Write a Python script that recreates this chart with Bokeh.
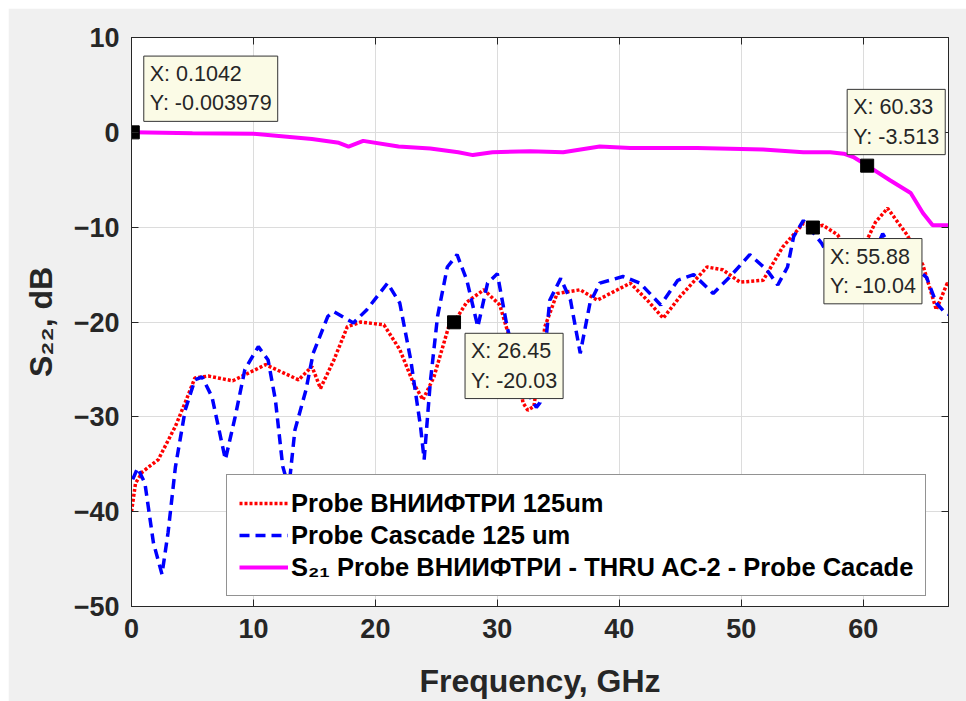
from bokeh.plotting import figure
from bokeh.models import (FixedTicker, LinearAxis, Legend, LegendItem, Label,
                          Range1d, CustomLabelingPolicy)
from bokeh.embed import file_html
from bokeh.resources import INLINE

# ---------------- data ----------------
red_freq = [0.0, 0.33, 0.9, 2.2, 3.6, 4.4, 5.2, 6.3, 8.3, 11.0, 13.7, 14.8, 15.5,
            16.6, 17.7, 18.8, 20.7, 22.0, 23.1, 23.9, 24.8, 26.1, 26.45, 27.5,
            28.9, 30.2, 30.8, 31.6, 32.1, 32.5, 33.0, 33.9, 34.9, 36.8, 38.2,
            40.9, 42.3, 43.6, 45.0, 47.2, 48.5, 49.9, 51.8, 53.4, 55.1, 55.88,
            56.7, 57.9, 59.0, 60.3, 61.0, 62.0, 63.6, 64.9, 66.0, 66.9, 67.0]
red_db = [-40.0, -37.0, -35.8, -34.5, -31.0, -28.5, -25.9, -25.7, -26.2, -24.5,
          -26.1, -24.7, -27.0, -24.0, -20.5, -20.0, -20.3, -22.9, -26.4, -28.2,
          -25.8, -20.1, -20.03, -17.9, -16.6, -18.2, -20.8, -24.0, -28.5, -29.3,
          -28.9, -20.5, -17.0, -16.6, -17.7, -15.9, -17.7, -19.6, -17.3, -14.2,
          -14.5, -15.8, -15.6, -12.1, -9.6, -10.04, -9.8, -10.8, -13.0, -11.4,
          -9.5, -8.0, -10.8, -14.0, -18.7, -15.9, -16.0]

blue_freq = [0.1, 0.5, 1.1, 1.8, 2.5, 3.0, 3.6, 4.4, 5.2, 5.8, 6.6, 7.7, 8.5, 9.3,
             10.4, 11.2, 11.8, 12.4, 12.9, 13.4, 14.3, 14.9, 16.1, 16.6, 18.2,
             19.3, 21.0, 22.0, 22.9, 23.7, 24.0, 24.5, 25.1, 25.9, 26.7, 27.5,
             28.4, 29.2, 30.0, 30.8, 31.5, 32.5, 33.2, 33.5, 34.3, 35.2, 36.0,
             36.8, 37.6, 38.4, 40.3, 41.7, 43.4, 44.8, 46.1, 47.7, 49.1, 50.7,
             52.1, 53.0, 53.8, 54.3, 55.1, 56.6, 58.0, 59.5, 60.8, 61.6, 62.5,
             63.5, 65.2, 66.0, 66.7, 67.0]
blue_db = [-36.6, -35.4, -37.0, -43.3, -46.6, -42.2, -35.3, -29.3, -26.1, -25.8,
           -27.9, -34.5, -30.0, -25.0, -22.6, -24.0, -28.2, -35.2, -37.5, -31.4,
           -27.2, -23.3, -19.4, -18.9, -20.1, -18.7, -15.9, -18.0, -24.0, -31.0,
           -34.5, -26.4, -19.4, -14.2, -12.9, -15.6, -20.5, -15.9, -14.9, -20.5,
           -24.0, -27.5, -29.0, -28.5, -17.7, -15.4, -17.7, -23.3, -18.0, -15.9,
           -15.2, -15.9, -18.2, -15.6, -15.0, -17.0, -15.2, -12.9, -14.5, -16.1,
           -14.2, -11.0, -9.3, -11.7, -15.0, -16.0, -13.0, -10.7, -12.5, -13.5,
           -15.3, -18.0, -19.0, -19.2]

mag_freq = [0.1, 5.0, 10.0, 14.8, 17.0, 17.8, 19.0, 21.9, 24.5, 26.8, 28.0, 29.6,
            32.7, 35.4, 38.4, 40.9, 46.4, 51.8, 55.1, 57.3, 58.4, 59.2, 60.33,
            62.2, 63.9, 64.9, 65.7, 67.0]
mag_db = [0.0, -0.1, -0.15, -0.7, -1.1, -1.5, -0.9, -1.5, -1.7, -2.1, -2.4, -2.1,
          -2.0, -2.1, -1.5, -1.65, -1.65, -1.8, -2.1, -2.1, -2.25, -2.6, -3.513,
          -5.05, -6.4, -8.5, -9.8, -9.8]

tip_x = [0.1042, 60.33, 26.45, 55.88]
tip_y = [-0.003979, -3.513, -20.03, -10.04]
tip_x_text = ["0.1042", "60.33", "26.45", "55.88"]
tip_y_text = ["-0.003979", "-3.513", "-20.03", "-10.04"]

x_ticks = [0, 10, 20, 30, 40, 50, 60]
y_ticks = [-50, -40, -30, -20, -10, 0, 10]

names = ["Probe ВНИИФТРИ 125um", "Probe Cascade 125 um",
         "S₂₁ Probe ВНИИФТРИ - THRU AC-2 - Probe Cacade"]
x_label = "Frequency, GHz"
y_label = "S₂₂, dB"

# ---------------- figure ----------------
AX = "#262626"
FONT = "Liberation Sans"

p = figure(width=958, height=693, x_range=Range1d(0, 67), y_range=Range1d(-50, 10),
           output_backend="svg", toolbar_location=None, title=None,
           min_border_left=123, min_border_right=18, min_border_top=29,
           min_border_bottom=94)
p.margin = (8, 0, 0, 8)
p.background_fill_color = "white"
p.border_fill_color = "#f0f0f0"
p.outline_line_color = AX
p.outline_line_width = 1

p.xaxis.ticker = FixedTicker(ticks=x_ticks)
p.yaxis.ticker = FixedTicker(ticks=y_ticks)
for ax in (p.xaxis[0], p.yaxis[0]):
    ax.axis_line_color = AX
    ax.major_tick_line_color = AX
    ax.major_tick_in = 7
    ax.major_tick_out = 0
    ax.minor_tick_line_color = None
    ax.major_label_text_font = FONT
    ax.major_label_text_font_style = "bold"
    ax.major_label_text_font_size = "27px"
    ax.major_label_text_color = AX
    ax.axis_label_text_font = FONT
    ax.axis_label_text_font_style = "bold"
    ax.axis_label_text_font_size = "32px"
    ax.axis_label_text_color = AX
p.xaxis.axis_label = x_label
p.yaxis.axis_label = y_label
p.xaxis.major_label_standoff = 12
p.yaxis.major_label_standoff = 12
p.xaxis.axis_label_standoff = 22
p.yaxis.axis_label_standoff = 12

# tick-only axes on the right and on top (box-style frame, ticks pointing in)
no_labels = CustomLabelingPolicy(code="return new Set()")
for loc, tick in (("right", y_ticks), ("above", x_ticks)):
    a = LinearAxis(ticker=FixedTicker(ticks=tick), major_label_policy=no_labels,
                   major_label_text_font_size="0px",
                   major_label_standoff=0, axis_line_color=AX, major_tick_line_color=AX,
                   major_tick_in=7, major_tick_out=0, minor_tick_line_color=None)
    p.add_layout(a, loc)

p.grid.grid_line_color = "#dcdcdc"
p.grid.grid_line_width = 1
p.xgrid.ticker = FixedTicker(ticks=x_ticks)
p.ygrid.ticker = FixedTicker(ticks=y_ticks)

# ---------------- curves ----------------
r_red = p.line(red_freq, red_db, line_color="#ff0000", line_width=3.5, line_dash="3 2")
r_blue = p.line(blue_freq, blue_db, line_color="#0000ff", line_width=3.5, line_dash="10 6")
r_mag = p.line(mag_freq, mag_db, line_color="#ff00ff", line_width=4)

p.scatter(tip_x, tip_y, marker="square", size=13, fill_color="black", line_color="black")

# ---------------- data tips ----------------
tip_dx = [11, -20, 11, 11]          # pixel offsets of each tip box (style)
for i in range(len(tip_x)):
    txt = "X: " + tip_x_text[i] + "\nY: " + tip_y_text[i]
    above = tip_y[i] > -5
    lab = Label(x=tip_x[i], y=tip_y[i], text=txt, x_offset=tip_dx[i],
                y_offset=(11 if above else -11),
                text_align="left", text_baseline=("bottom" if above else "top"),
                text_font=FONT, text_font_size="21.5px", text_color=AX,
                text_line_height=1.22, level="overlay",
                background_fill_color="#fbfbe6", border_line_color="#333333",
                border_line_width=1, padding=6)
    p.add_layout(lab)

# ---------------- legend ----------------
legend = Legend(items=[LegendItem(label=names[0], renderers=[r_red]),
                       LegendItem(label=names[1], renderers=[r_blue]),
                       LegendItem(label=names[2], renderers=[r_mag])],
                location=(95, 10), orientation="vertical",
                label_text_font=FONT, label_text_font_style="bold",
                label_text_font_size="25.5px", label_text_color="black",
                glyph_width=49, glyph_height=32, label_height=32,
                label_standoff=3, spacing=0, padding=12, margin=0,
                border_line_color=AX, border_line_width=1,
                background_fill_color="white", background_fill_alpha=1)
p.add_layout(legend)

open("out.html", "w").write(file_html(p, INLINE))
